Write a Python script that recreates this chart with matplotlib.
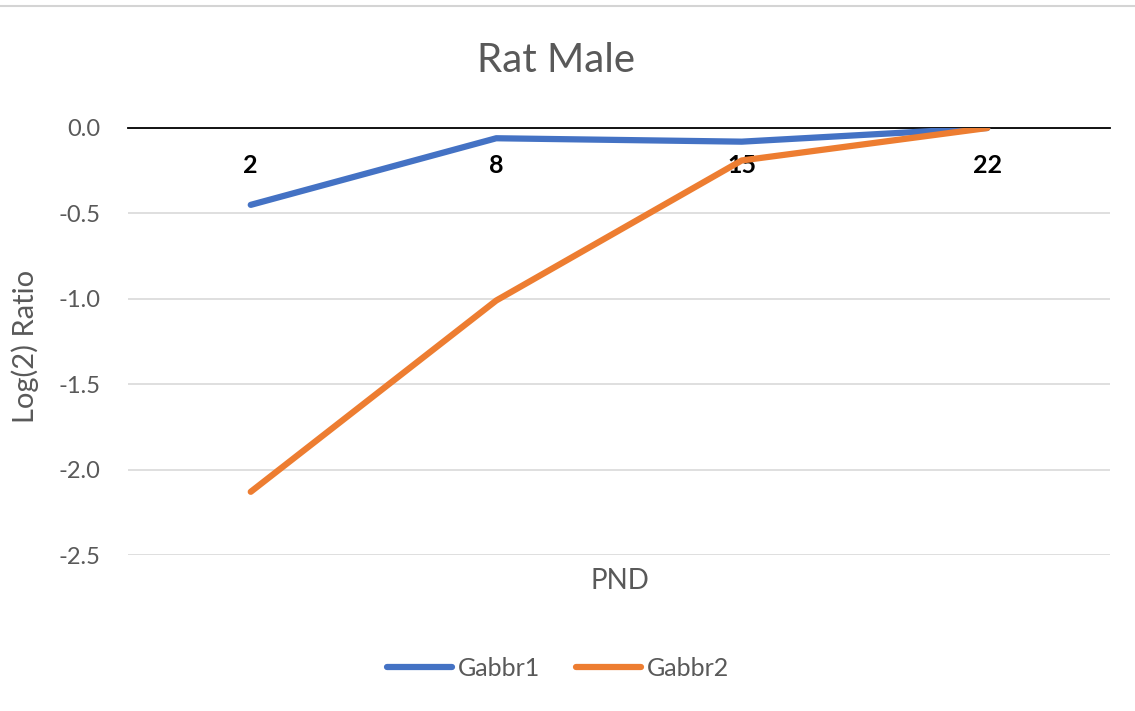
import matplotlib
matplotlib.use("Agg")
import matplotlib.pyplot as plt
from matplotlib.lines import Line2D

# Postnatal day categories and log2 expression ratios
categories = ["2", "8", "15", "22"]
gabbr1 = [-0.45, -0.06, -0.08, 0.0]
gabbr2 = [-2.13, -1.01, -0.19, 0.0]
series_names = ["Gabbr1", "Gabbr2"]
yticks = [0.0, -0.5, -1.0, -1.5, -2.0, -2.5]

plt.rcParams["font.family"] = ["Lato", "DejaVu Sans"]
GREY = "#595959"

fig = plt.figure(figsize=(11.35, 7.11), dpi=100)
fig.patch.set_facecolor("white")

# thin border at the top of the chart area
fig.add_artist(Line2D([0, 1], [1 - 6 / 711, 1 - 6 / 711], color="#d4d4d4",
                      lw=1.5, transform=fig.transFigure))

ax = fig.add_axes([128 / 1135, 1 - 555 / 711, (1110 - 128) / 1135, (555 - 128) / 711])

x = list(range(len(categories)))
ax.plot(x, gabbr1, color="#4472C4", lw=4.5, solid_capstyle="round",
        solid_joinstyle="round", label=series_names[0], zorder=3)
ax.plot(x, gabbr2, color="#ED7D31", lw=4.5, solid_capstyle="round",
        solid_joinstyle="round", label=series_names[1], zorder=3)

ax.set_xlim(-0.5, len(categories) - 0.5)
ax.set_ylim(-2.5, 0.0)

for side in ["left", "right", "top"]:
    ax.spines[side].set_visible(False)
ax.spines["bottom"].set_position(("data", 0.0))
ax.spines["bottom"].set_color("black")
ax.spines["bottom"].set_linewidth(1.3)
ax.spines["bottom"].set_zorder(2)

ax.set_yticks(yticks)
ax.set_yticklabels([f"{v:.1f}" for v in yticks], color=GREY, fontsize=17)
ax.yaxis.grid(True, color="#d9d9d9", lw=1.2)
ax.set_axisbelow(True)

ax.set_xticks(x)
ax.set_xticklabels(categories, fontsize=18, fontweight="bold", color="black")
ax.tick_params(axis="x", length=0, pad=19)
ax.tick_params(axis="y", length=0, pad=20)

fig.text(25 / 1135, 1 - 346 / 711, "Log(2) Ratio", ha="center", va="center",
         rotation=90, fontsize=21, color=GREY)
fig.text(620 / 1135, 1 - 581 / 711, "PND", ha="center", va="center",
         fontsize=20, color=GREY)
fig.text(556 / 1135, 1 - 61 / 711, "Rat Male", ha="center", va="center",
         fontsize=29, color=GREY)

leg = fig.legend(loc="center", bbox_to_anchor=(558 / 1135, 1 - 668 / 711),
                 ncol=2, frameon=False, fontsize=18, handlelength=2.6,
                 handletextpad=0.25, columnspacing=1.4)
for t in leg.get_texts():
    t.set_color(GREY)

fig.savefig("out.png", dpi=100, facecolor="white")
